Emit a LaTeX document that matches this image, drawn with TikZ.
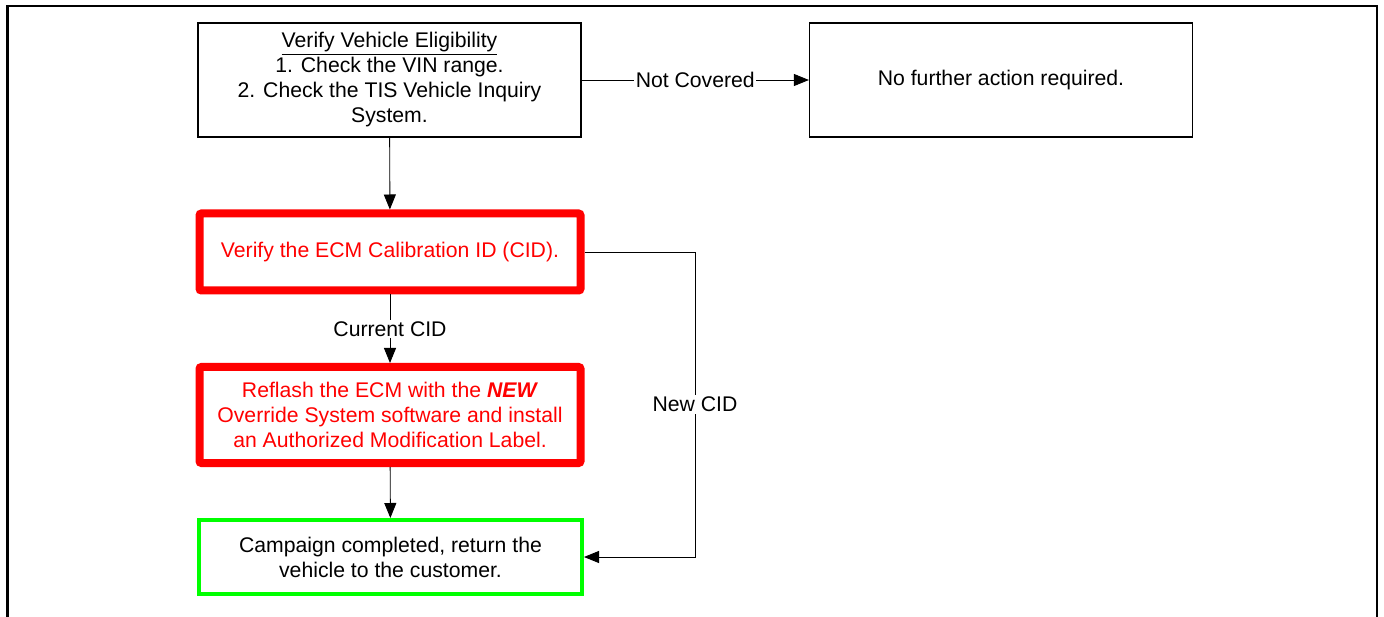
\documentclass[tikz,border=0pt]{standalone}
\usepackage{fontspec}
\setmainfont{Liberation Sans}
\usetikzlibrary{arrows.meta}
\definecolor{rred}{RGB}{255,0,0}
\definecolor{ggreen}{RGB}{0,255,0}
\begin{document}
\begin{tikzpicture}[x=1pt,y=-1pt,
  txt/.style={font=\fontsize{21.2}{25}\selectfont},
  plainbox/.style={txt, draw=black, line width=1.2pt, align=center, inner sep=0pt, minimum width=383pt, minimum height=114pt},
  redbox/.style={txt, draw=rred, text=rred, line width=8pt, rounded corners=2pt, align=center, inner sep=0pt, minimum width=381pt},
  greenbox/.style={txt, draw=ggreen, line width=4pt, align=center, inner sep=0pt, minimum width=383pt, minimum height=74pt},
  arr/.style={draw=black, line width=0.9pt, -{Triangle[length=15pt,width=12pt]}},
  lbl/.style={txt, fill=white, inner sep=1.5pt}
]
\useasboundingbox (0,0) rectangle (1384,617);
\fill[white] (0,0) rectangle (1384,617);
\draw[line width=2.2pt] (7.5,620) -- (7.5,6) -- (1377,6) -- (1377,620);

\node[plainbox] (b1) at (389.5,80) {\underline{Verify Vehicle Eligibility}\\1. Check the VIN range.\\2. Check the TIS Vehicle Inquiry\\System.};
\node[plainbox] (b2) at (1001,80) {No further action required.};
\node[redbox, minimum height=77pt] (b3) at (390,252) {Verify the ECM Calibration ID (CID).};
\node[redbox, minimum height=96pt] (b4) at (390,415) {Reflash the ECM with the \textbf{\textit{NEW}}\\Override System software and install\\an Authorized Modification Label.};
\node[greenbox] (b5) at (390.5,557) {Campaign completed, return the\\vehicle to the customer.};

\coordinate (c1) at (695,252);
\coordinate (c2) at (695,557);

\draw[arr] (b1) -- node[lbl] {Not Covered} (b2);
\draw[arr] (b1) -- (b3);
\draw[arr] (b3) -- node[lbl] {Current CID} (b4);
\draw[arr] (b4) -- (b5);
\draw[arr] (b3.east) -- (c1) -- node[lbl] {New CID} (c2) -- (b5.east);
\end{tikzpicture}
\end{document}
